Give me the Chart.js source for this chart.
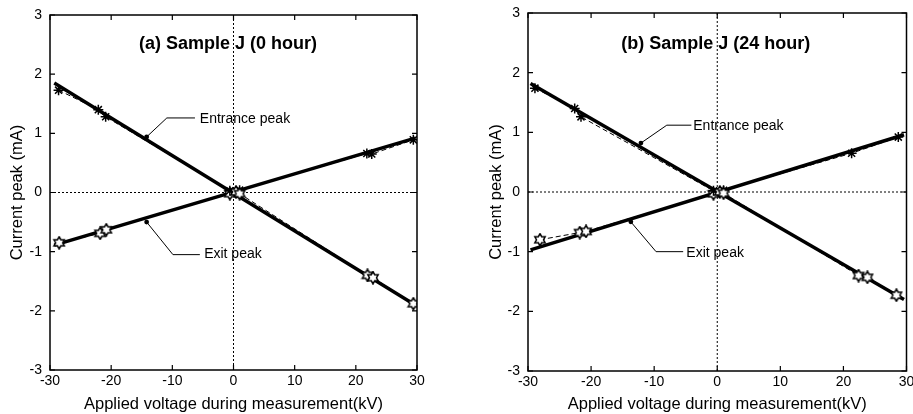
<!DOCTYPE html>
<html>
<head>
<meta charset="utf-8">
<script src="https://cdn.jsdelivr.net/npm/chart.js@4"></script>
<style>
  html, body { margin: 0; padding: 0; background: #fff; }
  .panel { position: absolute; top: 0; height: 414px; }
  #panelA { left: 0; width: 456px; }
  #panelB { left: 456px; width: 457px; }
</style>
</head>
<body>
<div class="panel" id="panelA"><canvas id="chartA"></canvas></div>
<div class="panel" id="panelB"><canvas id="chartB"></canvas></div>
<script>
// axis ticks
const xTicks = [-30, -20, -10, 0, 10, 20, 30];
const yTicks = [-3, -2, -1, 0, 1, 2, 3];

// (a) Sample J, 0 hour - measured points
const entVoltA = [-28.6, -22.1, -20.9, -0.6, 0.4, 1.0, 21.9, 22.8, 29.4];
const entCurrA = [1.73, 1.40, 1.28, 0.03, 0.01, -0.02, -1.40, -1.44, -1.88];
const exitVoltA = [-28.5, -21.8, -20.8, -0.6, 0.4, 1.0, 21.8, 22.6, 29.4];
const exitCurrA = [-0.85, -0.69, -0.63, -0.02, 0.02, 0.04, 0.66, 0.65, 0.89];
// (a) fitted lines
const fitVoltA = [-29.3, 29.7];
const entFitA = [1.85, -1.90];
const exitFitA = [-0.89, 0.92];

// (b) Sample J, 24 hour - measured points
const entVoltB = [-28.9, -22.6, -21.6, -0.6, 0.4, 1.0, 22.4, 23.8, 28.4];
const entCurrB = [1.74, 1.40, 1.26, 0.02, 0.0, -0.02, -1.40, -1.43, -1.73];
const exitVoltB = [-28.1, -21.8, -20.8, -0.6, 0.4, 1.0, 21.3, 28.7];
const exitCurrB = [-0.80, -0.68, -0.66, -0.03, 0.01, 0.03, 0.65, 0.92];
// (b) fitted lines
const fitVoltB = [-29.6, 29.6];
const entFitB = [1.82, -1.80];
const exitFitB = [-0.97, 0.96];

const FONT = "Arial, 'Liberation Sans', sans-serif";

function pts(xs, ys) {
  return xs.map((v, i) => ({ x: v, y: ys[i] }));
}

// outlined six-pointed star used as a marker
function makeHexagram(size) {
  const c = document.createElement('canvas');
  c.width = c.height = size;
  const g = c.getContext('2d');
  const r = size / 2 - 1;
  g.fillStyle = '#fff';
  g.strokeStyle = '#000';
  g.lineWidth = 1.5;
  g.beginPath();
  for (let k = 0; k < 12; k++) {
    const ang = -Math.PI / 2 + k * Math.PI / 6;
    const rr = k % 2 === 0 ? r : r * 0.58;
    const px = size / 2 + rr * Math.cos(ang);
    const py = size / 2 + rr * Math.sin(ang);
    if (k === 0) g.moveTo(px, py); else g.lineTo(px, py);
  }
  g.closePath();
  g.fill();
  g.stroke();
  return c;
}
const hexImg = makeHexagram(14);

// box, inward ticks, dotted zero lines, title and labels
const framePlugin = {
  id: 'frame',
  beforeDatasetsDraw(chart) {
    const { ctx, chartArea: a, scales: { x, y } } = chart;
    ctx.save();
    ctx.strokeStyle = '#000';
    ctx.lineWidth = 1;
    ctx.setLineDash([2, 2]);
    ctx.beginPath();
    ctx.moveTo(a.left, y.getPixelForValue(0));
    ctx.lineTo(a.right, y.getPixelForValue(0));
    ctx.moveTo(x.getPixelForValue(0), a.top);
    ctx.lineTo(x.getPixelForValue(0), a.bottom);
    ctx.stroke();
    ctx.restore();
  },
  afterDatasetsDraw(chart, args, opts) {
    const { ctx, chartArea: a, scales: { x, y } } = chart;
    ctx.save();
    ctx.strokeStyle = '#000';
    ctx.lineWidth = 1.5;
    ctx.strokeRect(a.left, a.top, a.right - a.left, a.bottom - a.top);
    ctx.lineWidth = 1.2;
    ctx.beginPath();
    xTicks.forEach(v => {
      const px = x.getPixelForValue(v);
      ctx.moveTo(px, a.bottom); ctx.lineTo(px, a.bottom - 5);
      ctx.moveTo(px, a.top); ctx.lineTo(px, a.top + 5);
    });
    yTicks.forEach(v => {
      const py = y.getPixelForValue(v);
      ctx.moveTo(a.left, py); ctx.lineTo(a.left + 5, py);
      ctx.moveTo(a.right, py); ctx.lineTo(a.right - 5, py);
    });
    ctx.stroke();

    // panel title
    ctx.fillStyle = '#000';
    ctx.font = 'bold 18px ' + FONT;
    ctx.textAlign = 'center';
    ctx.textBaseline = 'middle';
    ctx.fillText(opts.title, x.getPixelForValue(opts.titleAt[0]), y.getPixelForValue(opts.titleAt[1]));

    // leader lines with labels
    ctx.font = '14px ' + FONT;
    ctx.textAlign = 'left';
    ctx.lineWidth = 1;
    opts.notes.forEach(n => {
      ctx.beginPath();
      n.path.forEach((p, i) => {
        const px = x.getPixelForValue(p[0]);
        const py = y.getPixelForValue(p[1]);
        if (i === 0) ctx.moveTo(px, py); else ctx.lineTo(px, py);
      });
      ctx.stroke();
      const end = n.path[n.path.length - 1];
      ctx.beginPath();
      ctx.arc(x.getPixelForValue(end[0]), y.getPixelForValue(end[1]), 2.4, 0, Math.PI * 2);
      ctx.fill();
      ctx.fillText(n.text, x.getPixelForValue(n.at[0]), y.getPixelForValue(n.at[1]));
    });
    ctx.restore();
  }
};

function makePanel(id, d) {
  return new Chart(document.getElementById(id), {
    type: 'scatter',
    data: {
      datasets: [
        {
          data: pts(d.entVolt, d.entCurr),
          showLine: true,
          borderColor: '#000',
          borderWidth: 1,
          borderDash: [5, 3],
          pointStyle: c => (c.raw && c.raw.x < 0) ? 'star' : hexImg,
          pointRadius: 5,
          pointBorderWidth: 1.5,
          pointBorderColor: '#000',
          pointBackgroundColor: '#fff'
        },
        {
          data: pts(d.exitVolt, d.exitCurr),
          showLine: true,
          borderColor: '#000',
          borderWidth: 1,
          borderDash: [5, 3],
          pointStyle: c => (c.raw && c.raw.x < 0) ? hexImg : 'star',
          pointRadius: 5,
          pointBorderWidth: 1.5,
          pointBorderColor: '#000',
          pointBackgroundColor: '#fff'
        },
        {
          data: pts(d.fitVolt, d.entFit),
          showLine: true,
          borderColor: '#000',
          borderWidth: 3.5,
          pointRadius: 0
        },
        {
          data: pts(d.fitVolt, d.exitFit),
          showLine: true,
          borderColor: '#000',
          borderWidth: 3.5,
          pointRadius: 0
        }
      ]
    },
    options: {
      responsive: true,
      maintainAspectRatio: false,
      animation: false,
      layout: { padding: { top: d.top, right: d.right, left: 0, bottom: 0 } },
      plugins: {
        legend: { display: false },
        tooltip: { enabled: false },
        frame: { title: d.title, titleAt: d.titleAt, notes: d.notes }
      },
      scales: {
        x: {
          type: 'linear',
          min: -30,
          max: 30,
          afterBuildTicks: s => { s.ticks = xTicks.map(v => ({ value: v })); },
          ticks: { color: '#000', font: { size: 14, family: FONT }, padding: 3, maxRotation: 0 },
          grid: { display: false, drawTicks: false },
          border: { display: false },
          title: {
            display: true,
            text: 'Applied voltage during measurement(kV)',
            color: '#000',
            font: { size: 16.5, family: FONT },
            padding: { top: 0, bottom: 0 }
          },
          afterFit: s => { s.height = d.bottomH; s.paddingLeft = 0; s.paddingRight = 0; }
        },
        y: {
          type: 'linear',
          min: -3,
          max: 3,
          afterBuildTicks: s => { s.ticks = yTicks.map(v => ({ value: v })); },
          ticks: { color: '#000', font: { size: 14, family: FONT }, padding: 8 },
          grid: { display: false, drawTicks: false },
          border: { display: false },
          title: {
            display: true,
            text: 'Current peak (mA)',
            color: '#000',
            font: { size: 16.5, family: FONT },
            padding: { top: d.yTitlePad, bottom: 0 }
          },
          afterFit: s => { s.width = d.leftW; s.paddingTop = 0; s.paddingBottom = 0; }
        }
      }
    },
    plugins: [framePlugin]
  });
}

makePanel('chartA', {
  entVolt: entVoltA, entCurr: entCurrA, exitVolt: exitVoltA, exitCurr: exitCurrA,
  fitVolt: fitVoltA, entFit: entFitA, exitFit: exitFitA,
  top: 15, right: 39, leftW: 50, bottomH: 44, yTitlePad: 8,
  title: '(a) Sample J (0 hour)', titleAt: [-0.9, 2.51],
  notes: [
    { text: 'Entrance peak', at: [-5.5, 1.24], path: [[-6.3, 1.26], [-10.9, 1.26], [-14.2, 0.94]] },
    { text: 'Exit peak', at: [-4.8, -1.04], path: [[-5.5, -1.05], [-9.9, -1.05], [-14.2, -0.50]] }
  ]
});

makePanel('chartB', {
  entVolt: entVoltB, entCurr: entCurrB, exitVolt: exitVoltB, exitCurr: exitCurrB,
  fitVolt: fitVoltB, entFit: entFitB, exitFit: exitFitB,
  top: 13, right: 3, leftW: 72, bottomH: 43, yTitlePad: 31,
  title: '(b) Sample J (24 hour)', titleAt: [-0.25, 2.48],
  notes: [
    { text: 'Entrance peak', at: [-3.8, 1.11], path: [[-4.1, 1.12], [-8.0, 1.12], [-12.1, 0.82]] },
    { text: 'Exit peak', at: [-4.9, -1.02], path: [[-5.4, -1.0], [-9.7, -1.0], [-13.7, -0.50]] }
  ]
});
</script>
</body>
</html>
